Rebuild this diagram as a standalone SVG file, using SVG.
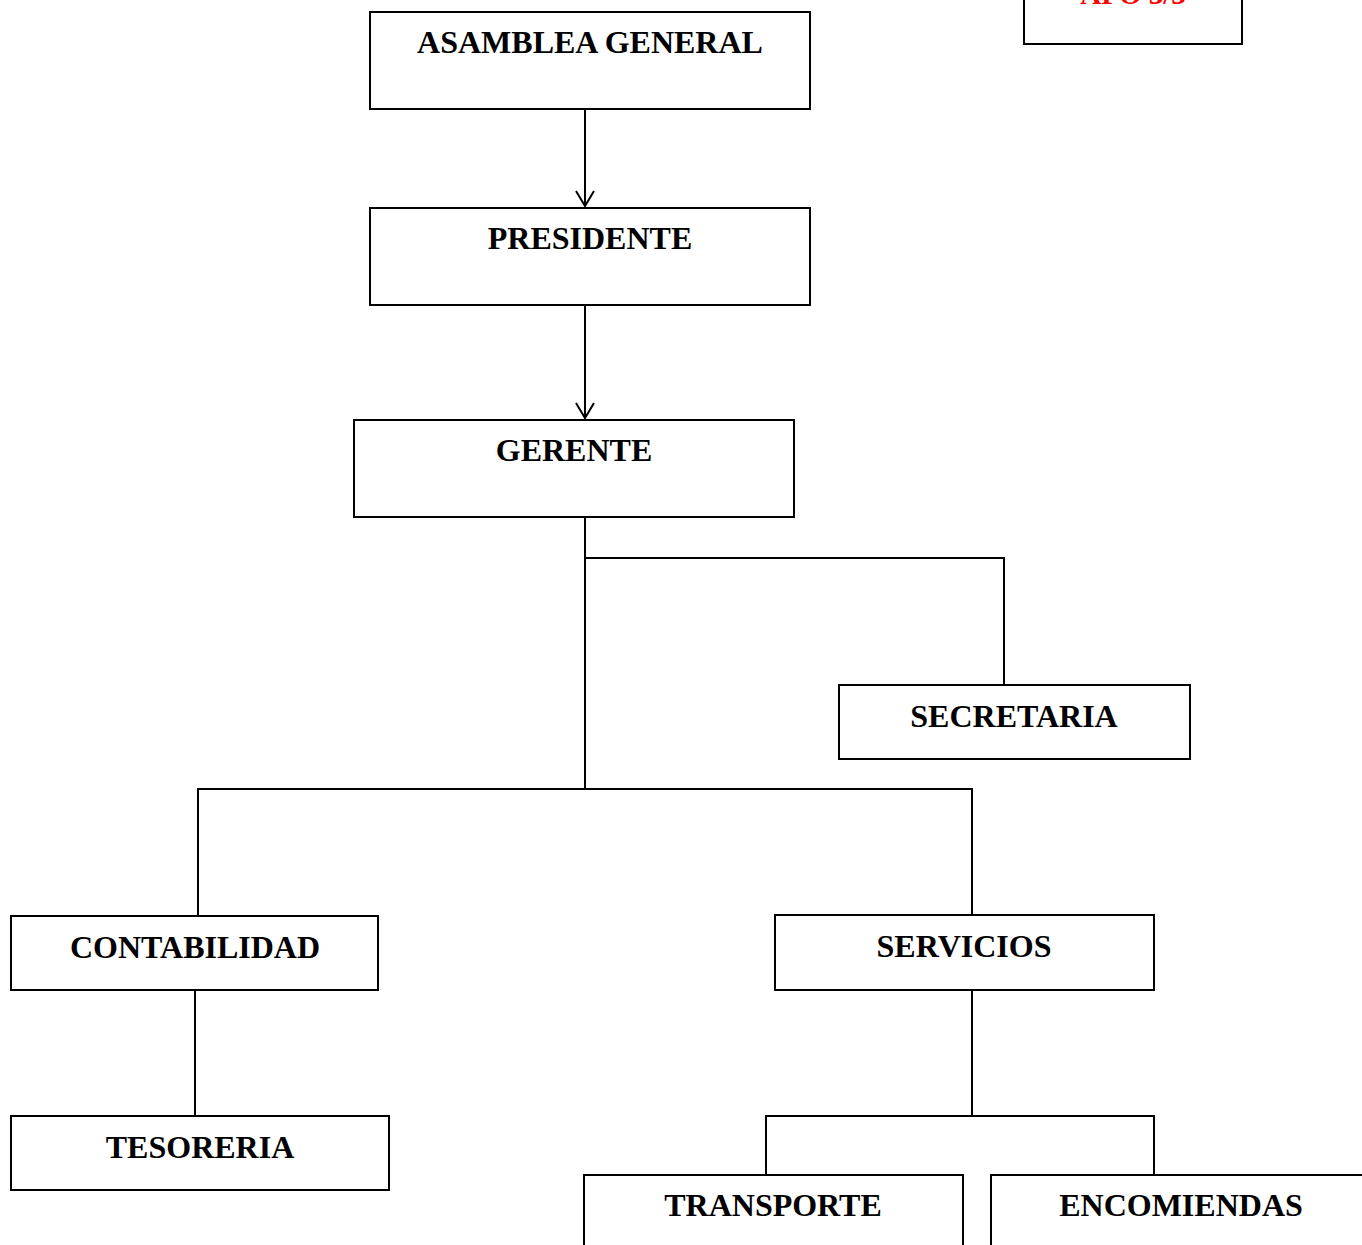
<svg xmlns="http://www.w3.org/2000/svg" width="1362" height="1245" viewBox="0 0 1362 1245">
<style>
.box{fill:#fff;stroke:#000;stroke-width:2}
.lbl{font-family:"Liberation Serif","Times New Roman",serif;font-weight:bold;font-size:32px;text-anchor:middle;fill:#000}
.ln{fill:none;stroke:#000;stroke-width:2}
</style>
<defs>
<marker id="arr" markerWidth="20" markerHeight="20" refX="18" refY="10" orient="auto" markerUnits="userSpaceOnUse" viewBox="0 0 20 20">
<path d="M3,1 L18,10 L3,19" fill="none" stroke="#000" stroke-width="2"/>
</marker>
</defs>
<rect width="1362" height="1245" fill="#fff"/>
<g id="connectors">
<line class="ln" x1="585" y1="109" x2="585" y2="206" marker-end="url(#arr)"/>
<line class="ln" x1="585" y1="305" x2="585" y2="418" marker-end="url(#arr)"/>
<polyline class="ln" points="585,517 585,789"/>
<polyline class="ln" points="585,558 1004,558 1004,685"/>
<polyline class="ln" points="198,916 198,789 972,789 972,915"/>
<line class="ln" x1="195" y1="990" x2="195" y2="1116"/>
<line class="ln" x1="972" y1="990" x2="972" y2="1116"/>
<polyline class="ln" points="766,1175 766,1116 1154,1116 1154,1175"/>
</g>
<g id="afo">
<rect class="box" x="1024" y="-10" width="218" height="54"/>
<text x="1133" y="4" style="font-family:'Liberation Serif','Times New Roman',serif;font-weight:bold;font-size:29px;text-anchor:middle;fill:#ff0000">AFO 3/3</text>
</g>
<g id="asamblea">
<rect class="box" x="370" y="12" width="440" height="97"/>
<text class="lbl" x="590" y="53">ASAMBLEA GENERAL</text>
</g>
<g id="presidente">
<rect class="box" x="370" y="208" width="440" height="97"/>
<text class="lbl" x="590" y="249">PRESIDENTE</text>
</g>
<g id="gerente">
<rect class="box" x="354" y="420" width="440" height="97"/>
<text class="lbl" x="574" y="461">GERENTE</text>
</g>
<g id="secretaria">
<rect class="box" x="839" y="685" width="351" height="74"/>
<text class="lbl" x="1014" y="727">SECRETARIA</text>
</g>
<g id="contabilidad">
<rect class="box" x="11" y="916" width="367" height="74"/>
<text class="lbl" x="195" y="958">CONTABILIDAD</text>
</g>
<g id="servicios">
<rect class="box" x="775" y="915" width="379" height="75"/>
<text class="lbl" x="964" y="957">SERVICIOS</text>
</g>
<g id="tesoreria">
<rect class="box" x="11" y="1116" width="378" height="74"/>
<text class="lbl" x="200" y="1158">TESORERIA</text>
</g>
<g id="transporte">
<rect class="box" x="584" y="1175" width="379" height="90"/>
<text class="lbl" x="773" y="1216">TRANSPORTE</text>
</g>
<g id="encomiendas">
<rect class="box" x="991" y="1175" width="390" height="90"/>
<text class="lbl" x="1181" y="1216">ENCOMIENDAS</text>
</g>
</svg>
